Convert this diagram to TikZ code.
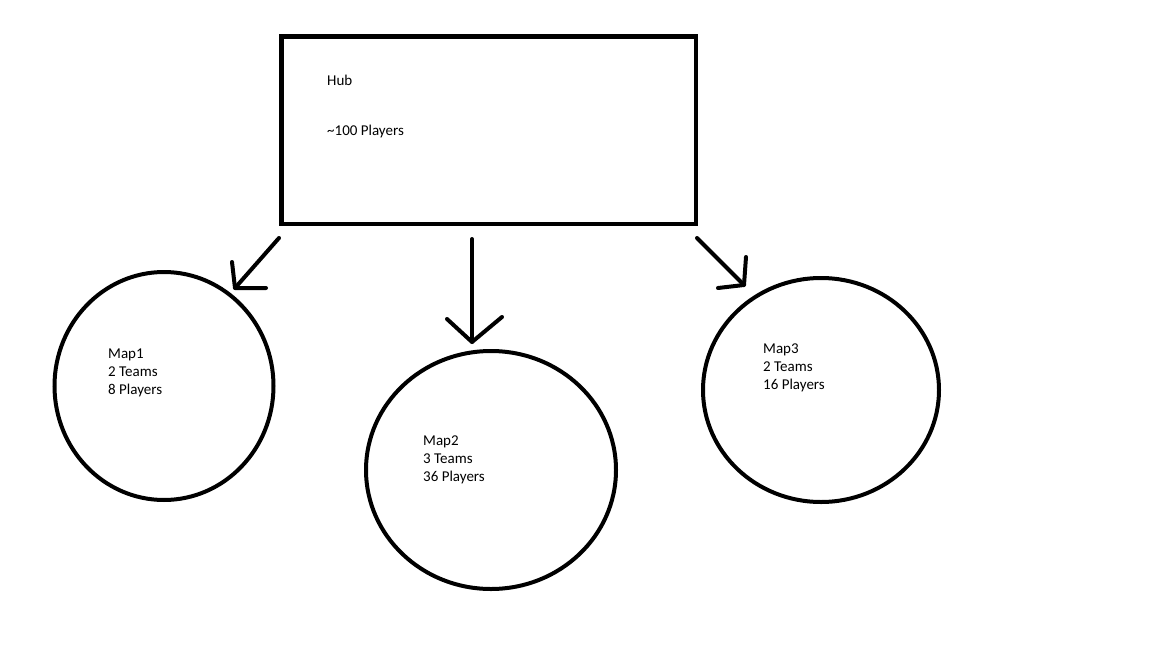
\documentclass[tikz,border=0pt]{standalone}
\usepackage{fontspec}
\setmainfont{Carlito}
\begin{document}
\begin{tikzpicture}[x=1pt,y=-1pt,
  box/.style={draw=black,line width=4.5pt},
  zone/.style={draw=black,line width=4pt},
  stroke/.style={draw=black,line width=4pt,line cap=round,line join=round},
  label/.style={anchor=base west,inner sep=0pt,font=\fontsize{15}{18}\selectfont}]
\useasboundingbox[fill=white] (0,0) rectangle (1152,648);

% hub box and the three map zones
\draw[box] (281.5,36.5) rectangle (696,224);
\draw[zone] (164,386) ellipse [x radius=109.5,y radius=114];
\draw[zone] (491,470) ellipse [x radius=125,y radius=119];
\draw[zone] (821,390) ellipse [x radius=118,y radius=112];

% texts
\node[label] (hubname) at (327,85) {Hub};
\node[label] (hubcount) at (327,135) {\textasciitilde 100 Players};

\node[label] (m1a) at (108,358) {Map1};
\node[label] (m1b) at (108,376) {2 Teams};
\node[label] (m1c) at (108,394) {8 Players};

\node[label] (m2a) at (423,445) {Map2};
\node[label] (m2b) at (423,463) {3 Teams};
\node[label] (m2c) at (423,481) {36 Players};

\node[label] (m3a) at (763,353) {Map3};
\node[label] (m3b) at (763,371) {2 Teams};
\node[label] (m3c) at (763,389) {16 Players};

% arrows from the hub down to each map
\coordinate (s1) at (279,238);
\coordinate (t1) at (235,288);
\coordinate (l1) at (232,262);
\coordinate (r1) at (266,288);
\draw[stroke] (s1) -- (t1);
\draw[stroke] (l1) -- (t1) -- (r1);

\coordinate (s2) at (472,239);
\coordinate (t2) at (472,342);
\coordinate (l2) at (447,319);
\coordinate (r2) at (502,317);
\draw[stroke] (s2) -- (t2);
\draw[stroke] (l2) -- (t2) -- (r2);

\coordinate (s3) at (697,238);
\coordinate (t3) at (744,285);
\coordinate (l3) at (746,257);
\coordinate (r3) at (718,288);
\draw[stroke] (s3) -- (t3);
\draw[stroke] (l3) -- (t3) -- (r3);
\end{tikzpicture}
\end{document}
